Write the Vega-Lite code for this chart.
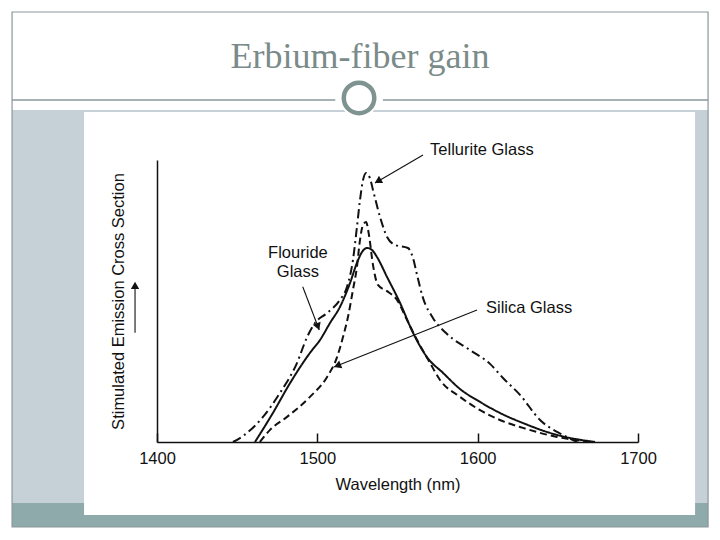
{
  "$schema": "https://vega.github.io/schema/vega-lite/v6.json",
  "width": 481,
  "height": 282,
  "autosize": {"type": "none"},
  "padding": {"left": 157, "top": 160, "right": 82, "bottom": 98},
  "background": "#ffffff",
  "config": {"view": {"stroke": null}, "font": "Liberation Sans"},
  "datasets": {
    "panels": [
      {"part": "band", "wl": 1309.6, "wl2": 1743.7, "y": 1.1773, "y2": -0.2163},
      {"part": "foot", "wl": 1309.6, "wl2": 1743.7, "y": -0.2163, "y2": -0.3014},
      {"part": "sheet", "wl": 1354.5, "wl2": 1735.6, "y": 1.1702, "y2": -0.2589}
    ],
    "frame": [
      {"wl": 1309.6, "wl2": 1743.7, "y": 1.5248, "y2": -0.3014}
    ],
    "divider": [
      {"wl": 1309.6, "wl2": 1511.2, "y": 1.2128},
      {"wl": 1540.9, "wl2": 1743.7, "y": 1.2128}
    ],
    "emblem": [
      {"wl": 1526.0, "y": 1.2199}
    ],
    "heading": [
      {"text": "Erbium-fiber gain", "wl": 1526.6, "y": 1.3262}
    ],
    "curves": [
      {"glass": "Tellurite", "wl": 1447.4, "y": 0.0},
      {"glass": "Tellurite", "wl": 1453.6, "y": 0.021},
      {"glass": "Tellurite", "wl": 1466.1, "y": 0.089},
      {"glass": "Tellurite", "wl": 1476.7, "y": 0.174},
      {"glass": "Tellurite", "wl": 1487.3, "y": 0.280},
      {"glass": "Tellurite", "wl": 1493.6, "y": 0.372},
      {"glass": "Tellurite", "wl": 1498.5, "y": 0.422},
      {"glass": "Tellurite", "wl": 1506.0, "y": 0.457},
      {"glass": "Tellurite", "wl": 1514.1, "y": 0.504},
      {"glass": "Tellurite", "wl": 1518.5, "y": 0.550},
      {"glass": "Tellurite", "wl": 1522.2, "y": 0.645},
      {"glass": "Tellurite", "wl": 1524.7, "y": 0.762},
      {"glass": "Tellurite", "wl": 1526.6, "y": 0.858},
      {"glass": "Tellurite", "wl": 1528.5, "y": 0.929},
      {"glass": "Tellurite", "wl": 1530.4, "y": 0.954},
      {"glass": "Tellurite", "wl": 1532.8, "y": 0.936},
      {"glass": "Tellurite", "wl": 1534.7, "y": 0.894},
      {"glass": "Tellurite", "wl": 1539.1, "y": 0.798},
      {"glass": "Tellurite", "wl": 1543.5, "y": 0.727},
      {"glass": "Tellurite", "wl": 1548.4, "y": 0.699},
      {"glass": "Tellurite", "wl": 1556.5, "y": 0.688},
      {"glass": "Tellurite", "wl": 1559.7, "y": 0.652},
      {"glass": "Tellurite", "wl": 1562.2, "y": 0.592},
      {"glass": "Tellurite", "wl": 1565.9, "y": 0.511},
      {"glass": "Tellurite", "wl": 1572.1, "y": 0.440},
      {"glass": "Tellurite", "wl": 1580.9, "y": 0.383},
      {"glass": "Tellurite", "wl": 1595.2, "y": 0.326},
      {"glass": "Tellurite", "wl": 1607.7, "y": 0.277},
      {"glass": "Tellurite", "wl": 1615.8, "y": 0.227},
      {"glass": "Tellurite", "wl": 1626.4, "y": 0.167},
      {"glass": "Tellurite", "wl": 1638.9, "y": 0.078},
      {"glass": "Tellurite", "wl": 1653.2, "y": 0.025},
      {"glass": "Tellurite", "wl": 1662.0, "y": 0.0},
      {"glass": "Flouride", "wl": 1461.1, "y": 0.0},
      {"glass": "Flouride", "wl": 1472.3, "y": 0.103},
      {"glass": "Flouride", "wl": 1483.0, "y": 0.209},
      {"glass": "Flouride", "wl": 1495.4, "y": 0.316},
      {"glass": "Flouride", "wl": 1501.7, "y": 0.362},
      {"glass": "Flouride", "wl": 1507.9, "y": 0.422},
      {"glass": "Flouride", "wl": 1514.1, "y": 0.479},
      {"glass": "Flouride", "wl": 1520.4, "y": 0.564},
      {"glass": "Flouride", "wl": 1524.7, "y": 0.635},
      {"glass": "Flouride", "wl": 1527.9, "y": 0.674},
      {"glass": "Flouride", "wl": 1531.0, "y": 0.688},
      {"glass": "Flouride", "wl": 1534.1, "y": 0.681},
      {"glass": "Flouride", "wl": 1537.2, "y": 0.656},
      {"glass": "Flouride", "wl": 1543.5, "y": 0.585},
      {"glass": "Flouride", "wl": 1551.6, "y": 0.493},
      {"glass": "Flouride", "wl": 1559.7, "y": 0.387},
      {"glass": "Flouride", "wl": 1568.4, "y": 0.301},
      {"glass": "Flouride", "wl": 1578.4, "y": 0.245},
      {"glass": "Flouride", "wl": 1589.0, "y": 0.188},
      {"glass": "Flouride", "wl": 1601.5, "y": 0.142},
      {"glass": "Flouride", "wl": 1613.9, "y": 0.103},
      {"glass": "Flouride", "wl": 1628.3, "y": 0.067},
      {"glass": "Flouride", "wl": 1649.5, "y": 0.025},
      {"glass": "Flouride", "wl": 1673.2, "y": 0.0},
      {"glass": "Silica", "wl": 1464.2, "y": 0.0},
      {"glass": "Silica", "wl": 1470.5, "y": 0.043},
      {"glass": "Silica", "wl": 1481.1, "y": 0.089},
      {"glass": "Silica", "wl": 1495.4, "y": 0.160},
      {"glass": "Silica", "wl": 1506.0, "y": 0.230},
      {"glass": "Silica", "wl": 1512.3, "y": 0.301},
      {"glass": "Silica", "wl": 1516.0, "y": 0.372},
      {"glass": "Silica", "wl": 1519.1, "y": 0.443},
      {"glass": "Silica", "wl": 1522.2, "y": 0.539},
      {"glass": "Silica", "wl": 1524.7, "y": 0.621},
      {"glass": "Silica", "wl": 1526.6, "y": 0.716},
      {"glass": "Silica", "wl": 1528.5, "y": 0.770},
      {"glass": "Silica", "wl": 1530.4, "y": 0.780},
      {"glass": "Silica", "wl": 1532.2, "y": 0.734},
      {"glass": "Silica", "wl": 1534.7, "y": 0.628},
      {"glass": "Silica", "wl": 1537.8, "y": 0.557},
      {"glass": "Silica", "wl": 1543.5, "y": 0.535},
      {"glass": "Silica", "wl": 1549.7, "y": 0.504},
      {"glass": "Silica", "wl": 1555.9, "y": 0.433},
      {"glass": "Silica", "wl": 1562.2, "y": 0.362},
      {"glass": "Silica", "wl": 1570.3, "y": 0.280},
      {"glass": "Silica", "wl": 1576.5, "y": 0.220},
      {"glass": "Silica", "wl": 1589.0, "y": 0.160},
      {"glass": "Silica", "wl": 1601.5, "y": 0.113},
      {"glass": "Silica", "wl": 1613.9, "y": 0.078},
      {"glass": "Silica", "wl": 1628.3, "y": 0.050},
      {"glass": "Silica", "wl": 1649.5, "y": 0.018},
      {"glass": "Silica", "wl": 1671.9, "y": 0.0}
    ],
    "labels": [
      {"glass": "Tellurite", "label": "Tellurite Glass", "wl": 1570.3, "y": 1.0355},
      {"glass": "Silica", "label": "Silica Glass", "wl": 1605.2, "y": 0.4752},
      {"glass": "Flouride", "label": "Flouride\nGlass", "wl": 1487.9, "y": 0.6702}
    ],
    "arrows": [
      {"glass": "Tellurite", "wl": 1565.9, "y": 1.0177, "wl2": 1536.0, "y2": 0.9184, "hx": 1537.8, "hy": 0.925, "angle": 240},
      {"glass": "Flouride", "wl": 1490.9, "y": 0.5507, "wl2": 1501.2, "y2": 0.3972, "hx": 1500.4, "hy": 0.409, "angle": 159},
      {"glass": "Silica", "wl": 1599.6, "y": 0.4681, "wl2": 1510.4, "y2": 0.266, "hx": 1512.5, "hy": 0.2706, "angle": 248},
      {"glass": "axis", "wl": 1386.3, "y": 0.387, "wl2": 1386.3, "y2": 0.555, "hx": 1386.3, "hy": 0.555, "angle": 0}
    ]
  },
  "encoding": {
    "x": {
      "field": "wl",
      "type": "quantitative",
      "scale": {"domain": [1400, 1700], "nice": false, "zero": false},
      "axis": {
        "values": [1400, 1500, 1600, 1700],
        "format": "d",
        "grid": false,
        "domainColor": "#111111",
        "domainWidth": 1.5,
        "tickColor": "#111111",
        "tickWidth": 1.5,
        "tickSize": -9,
        "labelPadding": 17,
        "labelFont": "Liberation Sans",
        "labelFontSize": 16.5,
        "labelColor": "#111111",
        "labelFlush": false,
        "title": "Wavelength (nm)",
        "titleFont": "Liberation Sans",
        "titleFontSize": 16.5,
        "titleFontWeight": "normal",
        "titleColor": "#111111",
        "titlePadding": 10,
        "zindex": 1
      }
    },
    "y": {
      "field": "y",
      "type": "quantitative",
      "scale": {"domain": [0, 1], "nice": false, "zero": false},
      "axis": {
        "grid": false,
        "ticks": false,
        "labels": false,
        "domainColor": "#111111",
        "domainWidth": 1.5,
        "title": "Stimulated Emission Cross Section",
        "titleFont": "Liberation Sans",
        "titleFontSize": 16.5,
        "titleFontWeight": "normal",
        "titleColor": "#111111",
        "titlePadding": 31,
        "zindex": 1
      }
    }
  },
  "layer": [
    {
      "data": {"name": "panels"},
      "mark": {"type": "rect", "strokeWidth": 0},
      "encoding": {
        "x2": {"field": "wl2"},
        "y2": {"field": "y2"},
        "color": {"field": "part", "type": "nominal", "scale": {"domain": ["band", "foot", "sheet"], "range": ["#c6d1d7", "#8eaaab", "#ffffff"]}, "legend": null}
      }
    },
    {
      "data": {"name": "frame"},
      "mark": {"type": "rect", "fill": null, "stroke": "#8b9799", "strokeWidth": 1.2},
      "encoding": {"x2": {"field": "wl2"}, "y2": {"field": "y2"}}
    },
    {
      "data": {"name": "divider"},
      "mark": {"type": "rule", "color": "#8a9a98", "strokeWidth": 1.5},
      "encoding": {"x2": {"field": "wl2"}}
    },
    {
      "data": {"name": "emblem"},
      "mark": {"type": "point", "shape": "circle", "filled": true, "color": "#ffffff", "size": 1500, "opacity": 1},
      "encoding": {}
    },
    {
      "data": {"name": "emblem"},
      "mark": {"type": "point", "shape": "circle", "filled": false, "color": "#7f9391", "size": 930, "strokeWidth": 4.5, "opacity": 1},
      "encoding": {}
    },
    {
      "data": {"name": "heading"},
      "mark": {"type": "text", "font": "Liberation Serif", "fontSize": 36, "color": "#7a8b89", "align": "center", "baseline": "alphabetic"},
      "encoding": {"text": {"field": "text"}}
    },
    {
      "data": {"name": "curves"},
      "mark": {"type": "line", "color": "#111111", "strokeWidth": 2, "interpolate": "monotone"},
      "encoding": {
        "strokeDash": {"field": "glass", "type": "nominal", "scale": {"domain": ["Tellurite", "Flouride", "Silica"], "range": [[9, 4, 2, 4], [1, 0], [7, 4]]}, "legend": null}
      }
    },
    {
      "data": {"name": "arrows"},
      "mark": {"type": "rule", "color": "#111111", "strokeWidth": 1.1},
      "encoding": {"x2": {"field": "wl2"}, "y2": {"field": "y2"}}
    },
    {
      "data": {"name": "arrows"},
      "mark": {"type": "point", "shape": "triangle-up", "filled": true, "color": "#111111", "size": 70, "opacity": 1},
      "encoding": {
        "x": {"field": "hx", "type": "quantitative"},
        "y": {"field": "hy", "type": "quantitative"},
        "angle": {"field": "angle", "type": "quantitative", "scale": null}
      }
    },
    {
      "data": {"name": "labels"},
      "transform": [{"filter": "datum.glass !== 'Flouride'"}],
      "mark": {"type": "text", "font": "Liberation Sans", "fontSize": 16.5, "color": "#111111", "align": "left", "baseline": "middle"},
      "encoding": {"text": {"field": "label"}}
    },
    {
      "data": {"name": "labels"},
      "transform": [{"filter": "datum.glass === 'Flouride'"}],
      "mark": {"type": "text", "font": "Liberation Sans", "fontSize": 16.5, "color": "#111111", "align": "center", "baseline": "middle", "lineBreak": "\n", "lineHeight": 19},
      "encoding": {"text": {"field": "label"}}
    }
  ]
}
